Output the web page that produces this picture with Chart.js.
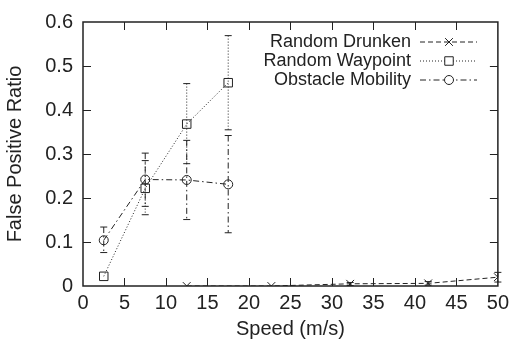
<!DOCTYPE html>
<html>
<head>
<meta charset="utf-8">
<script src="https://cdn.jsdelivr.net/npm/chart.js@4.4.1/dist/chart.umd.min.js"></script>
<style>
    html, body { margin: 0; padding: 0; background: #fff; }
    canvas { display: block; }
</style>
</head>
<body>
<canvas id="chart" width="514" height="343"></canvas>
<script>
// 速度ごとの誤検知率 (Speed vs False Positive Ratio)
const seriesLabels = ['Random Drunken', 'Random Waypoint', 'Obstacle Mobility'];

const drunkenSpeed = [12.5, 22.7, 32.2, 41.6, 50];
const drunkenRatio = [0, 0, 0.005, 0.006, 0.02];
const drunkenLow = [0, 0, 0.001, 0.002, 0.009];
const drunkenHigh = [0, 0, 0.008, 0.01, 0.031];

const waypointSpeed = [2.5, 7.5, 12.5, 17.5];
const waypointRatio = [0.022, 0.222, 0.368, 0.462];
const waypointLow = [0.022, 0.162, 0.278, 0.355];
const waypointHigh = [0.022, 0.285, 0.46, 0.569];

const obstacleSpeed = [2.5, 7.5, 12.5, 17.5];
const obstacleRatio = [0.104, 0.242, 0.241, 0.231];
const obstacleLow = [0.076, 0.181, 0.151, 0.121];
const obstacleHigh = [0.134, 0.302, 0.331, 0.342];

const xTicks = [0, 5, 10, 15, 20, 25, 30, 35, 40, 45, 50];
const yTicks = [0, 0.1, 0.2, 0.3, 0.4, 0.5, 0.6];

const ink = '#222';
const fontFamily = '"Liberation Sans", Arial, Helvetica, sans-serif';

const toPoints = function (xs, ys, lows, highs) {
    return xs.map(function (x, i) {
        return { x: x, y: ys[i], low: lows[i], high: highs[i] };
    });
};

const makeSeries = function (label, points, dash, pointStyle, radius) {
    return {
        label: label,
        data: points,
        borderColor: ink,
        borderWidth: 1,
        borderDash: dash,
        pointStyle: pointStyle,
        pointRadius: radius,
        pointBorderColor: ink,
        pointBorderWidth: 1,
        pointBackgroundColor: 'rgba(0,0,0,0)',
        fill: false,
        tension: 0
    };
};

// 誤差棒と内向きの目盛り、枠、凡例を描くプラグイン
const gnuplotLook = {
    id: 'gnuplotLook',
    afterDatasetsDraw: function (chart) {
        const ctx = chart.ctx;
        const xs = chart.scales.x;
        const ys = chart.scales.y;
        const area = chart.chartArea;

        ctx.save();
        ctx.strokeStyle = ink;
        ctx.lineWidth = 1;
        chart.data.datasets.forEach(function (ds) {
            ctx.setLineDash(ds.borderDash);
            ds.data.forEach(function (p) {
                if (p.high - p.low <= 0) return;
                const px = xs.getPixelForValue(p.x);
                const top = ys.getPixelForValue(p.high);
                const bot = ys.getPixelForValue(p.low);
                ctx.beginPath();
                ctx.moveTo(px, top); ctx.lineTo(px, bot);
                ctx.stroke();
                ctx.setLineDash([]);
                ctx.beginPath();
                ctx.moveTo(px - 3.5, top); ctx.lineTo(px + 3.5, top);
                ctx.moveTo(px - 3.5, bot); ctx.lineTo(px + 3.5, bot);
                ctx.stroke();
                ctx.setLineDash(ds.borderDash);
            });
        });
        ctx.setLineDash([]);

        // 枠
        ctx.lineWidth = 1.5;
        ctx.strokeRect(area.left, area.top, area.right - area.left, area.bottom - area.top);

        // 内向きの目盛り (上下左右)
        ctx.lineWidth = 1;
        ctx.beginPath();
        xTicks.slice(1, -1).forEach(function (v) {
            const px = Math.round(xs.getPixelForValue(v)) + 0.5;
            ctx.moveTo(px, area.bottom); ctx.lineTo(px, area.bottom - 8);
            ctx.moveTo(px, area.top); ctx.lineTo(px, area.top + 8);
        });
        yTicks.slice(1, -1).forEach(function (v) {
            const py = Math.round(ys.getPixelForValue(v)) + 0.5;
            ctx.moveTo(area.left, py); ctx.lineTo(area.left + 8, py);
            ctx.moveTo(area.right, py); ctx.lineTo(area.right - 8, py);
        });
        ctx.stroke();

        // 凡例 (右寄せの文字 + 線見本)
        ctx.font = '18px ' + fontFamily;
        ctx.textAlign = 'right';
        ctx.textBaseline = 'middle';
        const rowY = [42, 61, 80];
        chart.data.datasets.forEach(function (ds, i) {
            const y = rowY[i];
            ctx.fillStyle = ink;
            ctx.fillText(ds.label, 411, y);
            ctx.setLineDash(ds.borderDash);
            ctx.beginPath();
            ctx.moveTo(420, y); ctx.lineTo(477, y);
            ctx.stroke();
            ctx.setLineDash([]);
            ctx.fillStyle = '#fff';
            Chart.helpers.drawPoint(ctx, {
                pointStyle: ds.pointStyle,
                radius: ds.pointRadius,
                borderWidth: 1
            }, 449, y);
        });
        ctx.restore();
    }
};

const tickFont = { family: fontFamily, size: 20 };

new Chart(document.getElementById('chart').getContext('2d'), {
    type: 'line',
    data: {
        datasets: [
            makeSeries(seriesLabels[0], toPoints(drunkenSpeed, drunkenRatio, drunkenLow, drunkenHigh), [5, 3], 'crossRot', 5.5),
            makeSeries(seriesLabels[1], toPoints(waypointSpeed, waypointRatio, waypointLow, waypointHigh), [1, 2], 'rect', 6),
            makeSeries(seriesLabels[2], toPoints(obstacleSpeed, obstacleRatio, obstacleLow, obstacleHigh), [6, 3, 1.5, 3], 'circle', 4.5)
        ]
    },
    options: {
        responsive: false,
        animation: false,
        devicePixelRatio: 1,
        layout: { padding: { top: 18, right: 15, left: 0, bottom: 0 } },
        plugins: {
            legend: { display: false },
            tooltip: { enabled: false }
        },
        scales: {
            x: {
                type: 'linear',
                min: 0,
                max: 50,
                afterBuildTicks: function (scale) {
                    scale.ticks = xTicks.map(function (v) { return { value: v }; });
                },
                afterFit: function (scale) { scale.height = 57; },
                grid: { display: false, drawTicks: false },
                border: { display: false },
                ticks: {
                    color: ink,
                    padding: 5,
                    maxRotation: 0,
                    font: tickFont
                },
                title: {
                    display: true,
                    text: 'Speed (m/s)',
                    color: ink,
                    padding: { top: 0, bottom: 2 },
                    font: tickFont
                }
            },
            y: {
                type: 'linear',
                min: 0,
                max: 0.6,
                afterBuildTicks: function (scale) {
                    scale.ticks = yTicks.map(function (v) { return { value: v }; });
                },
                afterFit: function (scale) { scale.width = 83; },
                grid: { display: false, drawTicks: false },
                border: { display: false },
                ticks: {
                    color: ink,
                    padding: 10,
                    font: tickFont,
                    callback: function (v) { return v === 0 ? '0' : v.toFixed(1); }
                },
                title: {
                    display: true,
                    text: 'False Positive Ratio',
                    color: ink,
                    padding: { top: 3, bottom: 0 },
                    font: tickFont
                }
            }
        }
    },
    plugins: [gnuplotLook]
});
</script>
</body>
</html>
